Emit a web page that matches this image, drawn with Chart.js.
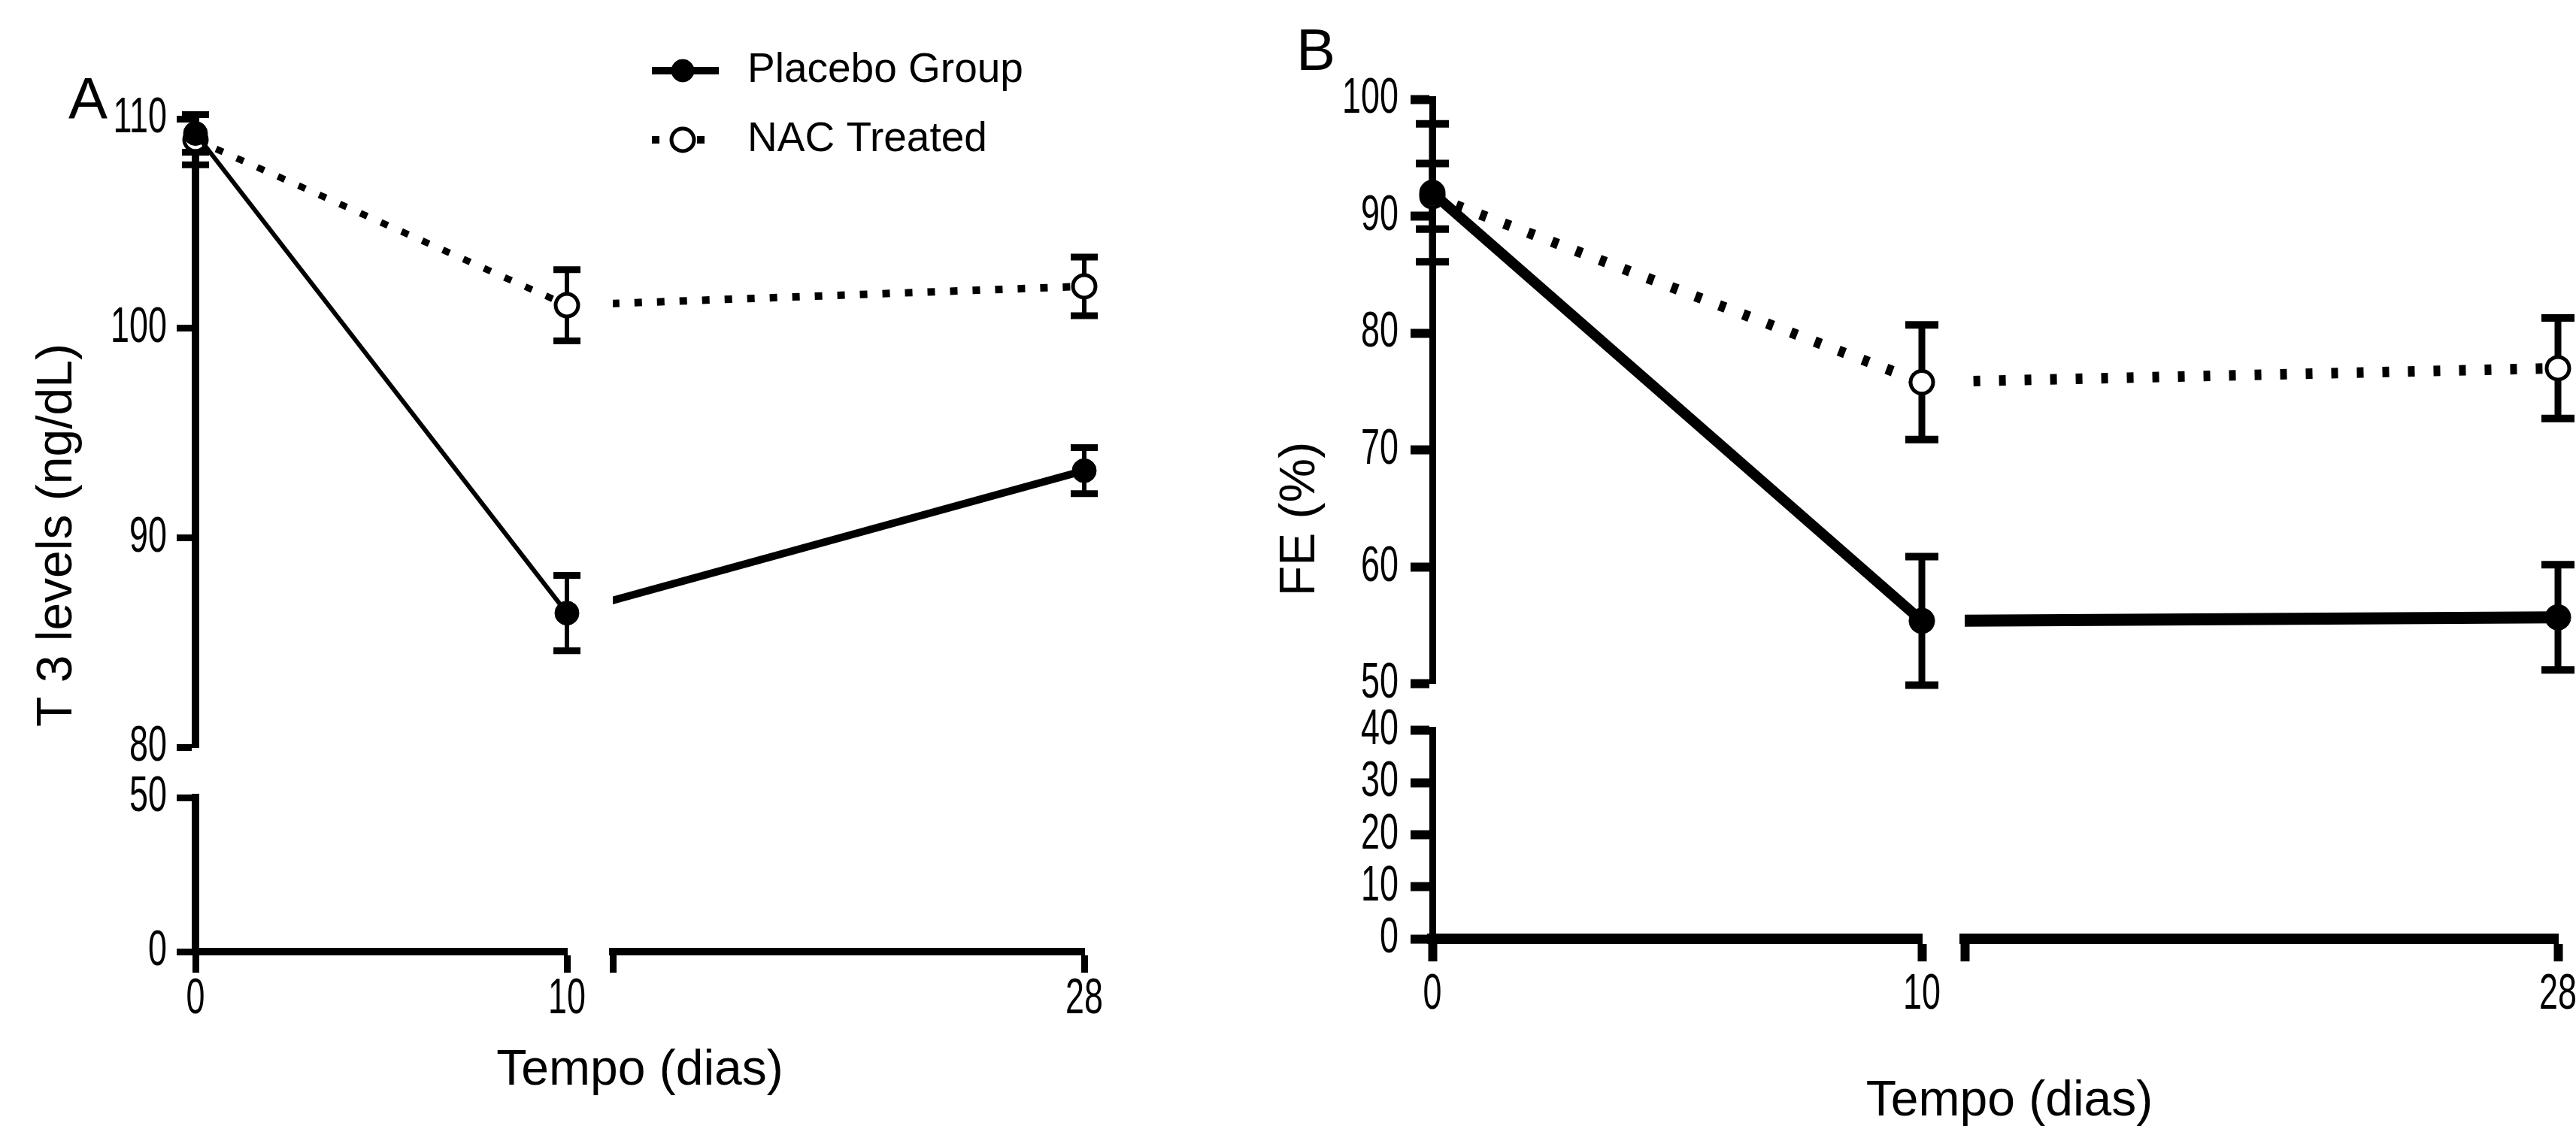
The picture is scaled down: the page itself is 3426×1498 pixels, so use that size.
<!DOCTYPE html>
<html>
<head>
<meta charset="utf-8">
<script src="https://cdn.jsdelivr.net/npm/chart.js@4.4.1/dist/chart.umd.min.js"></script>
<style>
  html, body { margin: 0; padding: 0; background: #fff; }
  body { width: 3426px; height: 1498px; position: relative; overflow: hidden; }
  canvas { position: absolute; top: 0; }
  #chartA { left: 0; }
  #chartB { left: 1600px; }
</style>
</head>
<body>
<canvas id="chartA" width="1600" height="1498"></canvas>
<canvas id="chartB" width="1826" height="1498"></canvas>
<script>
// measurement days
const days = [0, 10, 28];

// panel A: T3 levels (ng/dL), mean and error
const t3Placebo = [109.3, 86.4, 93.2];
const t3PlaceboErr = [0.9, 1.8, 1.1];
const t3Nac = [109.0, 101.1, 102.0];
const t3NacErr = [1.2, 1.7, 1.4];

// panel B: FE (%)
const fePlacebo = [92.0, 55.4, 55.7];
const fePlaceboErr = [5.9, 5.5, 4.5];
const feNac = [91.7, 75.8, 77.0];
const feNacErr = [2.8, 4.9, 4.3];

// broken axis ranges
const t3Upper = [80, 110];
const t3Lower = [0, 50];
const feUpper = [50, 100];
const feLower = [0, 40];
const xFirstTicks = [0, 10];
const xLastTick = 28;

const seriesLabels = ['Placebo Group', 'NAC Treated'];

const textFamily = '"Liberation Sans", Arial, sans-serif';

// error bars drawn under the markers
const errorBars = {
  id: 'errorBars',
  beforeDatasetsDraw(chart, args, o) {
    const ctx = chart.ctx;
    chart.data.datasets.forEach(ds => {
      const xs = chart.scales[ds.xAxisID], ys = chart.scales[ds.yAxisID];
      ds.data.forEach((p, j) => {
        const e = ds.err ? ds.err[j] : null;
        if (e == null) return;
        const x = xs.getPixelForValue(p.x);
        const y1 = ys.getPixelForValue(p.y + e), y2 = ys.getPixelForValue(p.y - e);
        ctx.save();
        ctx.strokeStyle = '#000';
        ctx.lineWidth = o.stem;
        ctx.beginPath(); ctx.moveTo(x, y1); ctx.lineTo(x, y2); ctx.stroke();
        ctx.lineWidth = o.cap;
        ctx.beginPath();
        ctx.moveTo(x - o.capHalf, y1); ctx.lineTo(x + o.capHalf, y1);
        ctx.moveTo(x - o.capHalf, y2); ctx.lineTo(x + o.capHalf, y2);
        ctx.stroke();
        ctx.restore();
      });
    });
  }
};

// the part after the x break is clipped to its own axis
const breakClip = {
  id: 'breakClip',
  beforeDatasetDraw(chart, args) {
    const ds = chart.data.datasets[args.index];
    if (!ds.clipToAxis) return;
    const xs = chart.scales[ds.xAxisID];
    chart.ctx.save();
    chart.ctx.beginPath();
    chart.ctx.rect(xs.left, 0, chart.width - xs.left, chart.height);
    chart.ctx.clip();
  },
  afterDatasetDraw(chart, args) {
    if (chart.data.datasets[args.index].clipToAxis) chart.ctx.restore();
  }
};

// tick labels in a condensed face, placed from the scales' own ticks
const tickLabels = {
  id: 'tickLabels',
  afterDraw(chart, args, o) {
    const ctx = chart.ctx;
    ctx.save();
    ctx.fillStyle = '#000';
    ctx.font = o.size + 'px ' + textFamily;
    ctx.textBaseline = 'middle';
    ['yUp', 'yLow', 'x1', 'x2'].forEach(id => {
      const s = chart.scales[id];
      const tl = s.options.grid.tickLength;
      s.ticks.forEach((t, i) => {
        if (!t.label) return;
        let x, y;
        if (s.isHorizontal()) {
          ctx.textAlign = 'center';
          x = s.getPixelForTick(i);
          y = s.top + o.xOffset;
        } else {
          ctx.textAlign = 'right';
          x = s.right - tl - o.yPad;
          y = s.getPixelForTick(i);
        }
        ctx.save();
        ctx.translate(x, y);
        ctx.scale(o.squeeze, 1);
        ctx.fillText(t.label, 0, 0);
        ctx.restore();
      });
    });
    ctx.restore();
  }
};

// panel letter, axis titles, legend
const decorations = {
  id: 'decorations',
  afterDraw(chart, args, o) {
    const ctx = chart.ctx, s = chart.scales;
    ctx.save();
    ctx.fillStyle = '#000';
    ctx.font = '78px ' + textFamily;
    ctx.textAlign = 'left';
    ctx.textBaseline = 'alphabetic';
    ctx.fillText(o.letter, o.letterX, o.letterY);

    ctx.font = '66px ' + textFamily;
    ctx.textAlign = 'center';
    ctx.textBaseline = 'middle';
    const yMid = (s.yUp.top + s.yLow.bottom) / 2;
    ctx.save();
    ctx.translate(o.yTitleX, yMid);
    ctx.rotate(-Math.PI / 2);
    ctx.fillText(o.yTitle, 0, 0);
    ctx.restore();
    ctx.fillText(o.xTitle, (s.x1.left + s.x2.right) / 2 + o.xTitleShift, o.xTitleY);

    if (o.legend) {
      const L = o.legend;
      ctx.font = '55px ' + textFamily;
      ctx.textAlign = 'left';
      [0, 2].forEach((dsIndex, i) => {
        const ds = chart.data.datasets[dsIndex];
        const y = L.y[i];
        ctx.strokeStyle = '#000';
        ctx.lineWidth = L.lineW;
        ctx.setLineDash(ds.borderDash || []);
        ctx.beginPath(); ctx.moveTo(L.x0, y); ctx.lineTo(L.x1, y); ctx.stroke();
        ctx.setLineDash([]);
        ctx.beginPath();
        ctx.arc(L.mx, y, L.r, 0, Math.PI * 2);
        ctx.fillStyle = ds.pointBackgroundColor;
        ctx.fill();
        ctx.lineWidth = ds.pointBorderWidth;
        ctx.stroke();
        ctx.fillStyle = '#000';
        ctx.fillText(ds.label, L.textX, y);
      });
    }
    ctx.restore();
  }
};

function makeSeries(label, values, errs, st) {
  const pts = days.map((d, i) => ({x: d, y: values[i]}));
  const common = {
    label: label,
    borderColor: '#000',
    pointBorderColor: '#000',
    pointBackgroundColor: st.fill,
    pointBorderWidth: st.pointBorder,
    pointHoverRadius: st.radius,
    borderDash: st.dash || [],
    yAxisID: 'yUp',
    clip: false,
    tension: 0
  };
  return [
    Object.assign({}, common, {data: pts.slice(0, 2), xAxisID: 'x1', borderWidth: st.w1,
      pointRadius: st.radius, err: errs.slice(0, 2)}),
    Object.assign({}, common, {data: pts.slice(1), xAxisID: 'x2', borderWidth: st.w2,
      pointRadius: [0, st.radius], err: [null, errs[2]], clipToAxis: true})
  ];
}

function yAxis(range, step, weight, stackWeight, g) {
  return {
    type: 'linear', position: 'left', stack: 'y', weight: weight, stackWeight: stackWeight,
    min: range[0], max: range[1],
    ticks: {stepSize: step, display: false},
    grid: {drawOnChartArea: false, tickLength: g.yTick, tickWidth: g.tickW, tickColor: '#000'},
    border: {color: '#000', width: g.yAxisW},
    afterFit: s => { s.width = g.left; s.paddingTop = 0; s.paddingBottom = 0; }
  };
}

function gapAxis(position, stack, weight, stackWeight, g) {
  return {
    type: 'linear', position: position, stack: stack, weight: weight, stackWeight: stackWeight,
    min: 0, max: 1,
    ticks: {display: false}, grid: {display: false}, border: {display: false},
    afterFit: s => {
      if (s.isHorizontal()) { s.height = g.bottom; s.paddingLeft = 0; s.paddingRight = 0; }
      else { s.width = g.left; s.paddingTop = 0; s.paddingBottom = 0; }
    }
  };
}

function xAxis(min, max, tickValues, weight, stackWeight, g) {
  return {
    type: 'linear', position: 'bottom', stack: 'x', weight: weight, stackWeight: stackWeight,
    min: min, max: max,
    afterBuildTicks: s => { s.ticks = tickValues.map(v => ({value: v})); },
    ticks: {
      display: false,
      callback: v => (v === xLastTick || xFirstTicks.includes(v)) ? String(v) : ''
    },
    grid: {drawOnChartArea: false, tickLength: g.xTick, tickWidth: g.tickW, tickColor: '#000'},
    border: {color: '#000', width: g.xAxisW},
    afterFit: s => { s.height = g.bottom; s.paddingLeft = 0; s.paddingRight = 0; }
  };
}

function buildPanel(id, p) {
  const g = p.geom;
  const datasets = [].concat(
    makeSeries(seriesLabels[0], p.placebo, p.placeboErr, p.placeboStyle),
    makeSeries(seriesLabels[1], p.nac, p.nacErr, p.nacStyle)
  );
  return new Chart(document.getElementById(id), {
    type: 'line',
    data: {datasets: datasets},
    options: {
      responsive: false,
      animation: false,
      events: [],
      layout: {padding: {top: g.top, right: g.right, bottom: 0, left: 0}},
      plugins: {
        legend: {display: false},
        tooltip: {enabled: false},
        errorBars: p.errStyle,
        tickLabels: p.labelStyle,
        decorations: p.deco
      },
      scales: {
        yUp: yAxis(p.upper, p.upperStep, 2, g.yW[0], g),
        yGap: gapAxis('left', 'y', 1, g.yW[1], g),
        yLow: yAxis(p.lower, p.lowerStep, 0, g.yW[2], g),
        x1: xAxis(xFirstTicks[0], xFirstTicks[1], xFirstTicks, 0, g.xW[0], g),
        xGap: gapAxis('bottom', 'x', 1, g.xW[1], g),
        x2: xAxis(g.xBreak, xLastTick, [g.xBreak, xLastTick], 2, g.xW[2], g)
      }
    },
    plugins: [errorBars, breakClip, tickLabels, decorations]
  });
}

buildPanel('chartA', {
  placebo: t3Placebo, placeboErr: t3PlaceboErr, nac: t3Nac, nacErr: t3NacErr,
  upper: t3Upper, upperStep: 10, lower: t3Lower, lowerStep: 50,
  geom: {left: 260, top: 158, right: 158, bottom: 232, yW: [836, 67, 205], xW: [494, 61, 627], xBreak: 11.6,
    yAxisW: 10, xAxisW: 10, tickW: 9, yTick: 25, xTick: 28},
  placeboStyle: {w1: 6, w2: 10, radius: 16, pointBorder: 1, fill: '#000'},
  nacStyle: {w1: 9, w2: 10, dash: [10, 20], radius: 15, pointBorder: 5, fill: '#fff'},
  errStyle: {stem: 6, cap: 9, capHalf: 18},
  labelStyle: {size: 66, squeeze: 0.68, yPad: 13, xOffset: 64},
  deco: {letter: 'A', letterX: 91, letterY: 158, yTitle: 'T 3 levels (ng/dL)', yTitleX: 77,
    xTitle: 'Tempo (dias)', xTitleY: 1425, xTitleShift: 0,
    legend: {y: [94, 186], x0: 867, x1: 956, mx: 908, r: 15, lineW: 10, textX: 994}}
});

buildPanel('chartB', {
  placebo: fePlacebo, placeboErr: fePlaceboErr, nac: feNac, nacErr: feNacErr,
  upper: feUpper, upperStep: 10, lower: feLower, lowerStep: 10,
  geom: {left: 305, top: 132, right: 24, bottom: 249, yW: [778, 62, 277], xW: [651, 57, 789], xBreak: 11.2,
    yAxisW: 9, xAxisW: 14, tickW: 12, yTick: 29, xTick: 30},
  placeboStyle: {w1: 14, w2: 16, radius: 17, pointBorder: 1, fill: '#000'},
  nacStyle: {w1: 14, w2: 14, dash: [9, 25], radius: 15, pointBorder: 5, fill: '#fff'},
  errStyle: {stem: 9, cap: 10, capHalf: 22},
  labelStyle: {size: 66, squeeze: 0.68, yPad: 16, xOffset: 75},
  deco: {letter: 'B', letterX: 124, letterY: 93, yTitle: 'FE (%)', yTitleX: 130,
    xTitle: 'Tempo (dias)', xTitleY: 1466, xTitleShift: 19}
});
</script>
</body>
</html>
